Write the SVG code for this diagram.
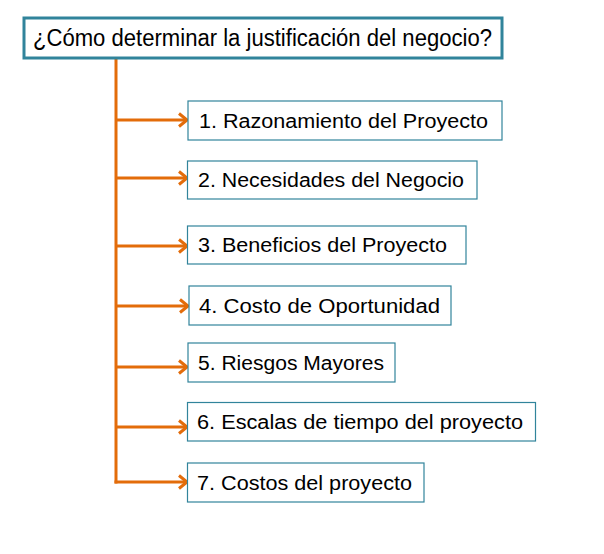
<svg xmlns="http://www.w3.org/2000/svg" width="604" height="554" viewBox="0 0 604 554">
<style>
text{font-family:"Liberation Sans",Arial,sans-serif;fill:#000;}
.t{font-size:23px;}
.n{font-size:20px;}
.title{fill:#fff;stroke:#31849B;stroke-width:3;}
.box{fill:#fff;stroke:#31849B;stroke-width:1.2;}
.c{fill:none;stroke:#E36C0A;stroke-width:3;}
.a{fill:none;stroke:#E36C0A;stroke-width:3;marker-end:url(#ah);}
</style>
<defs>
<marker id="ah" markerUnits="userSpaceOnUse" markerWidth="14" markerHeight="16" refX="11" refY="8" orient="auto" viewBox="0 0 14 16">
<path d="M3,1.5 L11,8 L3,14.5" fill="none" stroke="#E36C0A" stroke-width="3" stroke-linejoin="miter"/>
</marker>
</defs>
<rect width="604" height="554" fill="#fff"/>
<g id="connectors">
<line class="c" x1="116" y1="58" x2="116" y2="483.5"/>
<line class="a" x1="116" y1="120" x2="187" y2="120"/>
<line class="a" x1="116" y1="178" x2="187" y2="178"/>
<line class="a" x1="116" y1="246" x2="187" y2="246"/>
<line class="a" x1="116" y1="306" x2="188" y2="306"/>
<line class="a" x1="116" y1="367" x2="187" y2="367"/>
<line class="a" x1="116" y1="427" x2="187" y2="427"/>
<line class="a" x1="114.5" y1="482" x2="187" y2="482"/>
</g>
<g id="root">
<rect class="title" x="24" y="18" width="478" height="40"/>
<text class="t" x="33" y="46" textLength="459" lengthAdjust="spacingAndGlyphs">¿Cómo determinar la justificación del negocio?</text>
</g>
<g id="n1">
<rect class="box" x="188" y="101" width="314" height="39"/>
<text class="n" x="199" y="128" textLength="289" lengthAdjust="spacingAndGlyphs">1. Razonamiento del Proyecto</text>
</g>
<g id="n2">
<rect class="box" x="187.5" y="161" width="289.5" height="38"/>
<text class="n" x="198" y="187" textLength="266" lengthAdjust="spacingAndGlyphs">2. Necesidades del Negocio</text>
</g>
<g id="n3">
<rect class="box" x="187.5" y="226" width="278.5" height="38"/>
<text class="n" x="198" y="252" textLength="249" lengthAdjust="spacingAndGlyphs">3. Beneficios del Proyecto</text>
</g>
<g id="n4">
<rect class="box" x="189" y="286" width="262" height="39"/>
<text class="n" x="199" y="313" textLength="241" lengthAdjust="spacingAndGlyphs">4. Costo de Oportunidad</text>
</g>
<g id="n5">
<rect class="box" x="188" y="343" width="207" height="39"/>
<text class="n" x="198" y="370" textLength="186" lengthAdjust="spacingAndGlyphs">5. Riesgos Mayores</text>
</g>
<g id="n6">
<rect class="box" x="187.5" y="402.5" width="348" height="38.5"/>
<text class="n" x="197" y="429" textLength="326" lengthAdjust="spacingAndGlyphs">6. Escalas de tiempo del proyecto</text>
</g>
<g id="n7">
<rect class="box" x="187.5" y="463" width="236.5" height="39"/>
<text class="n" x="197" y="490" textLength="215" lengthAdjust="spacingAndGlyphs">7. Costos del proyecto</text>
</g>
</svg>
